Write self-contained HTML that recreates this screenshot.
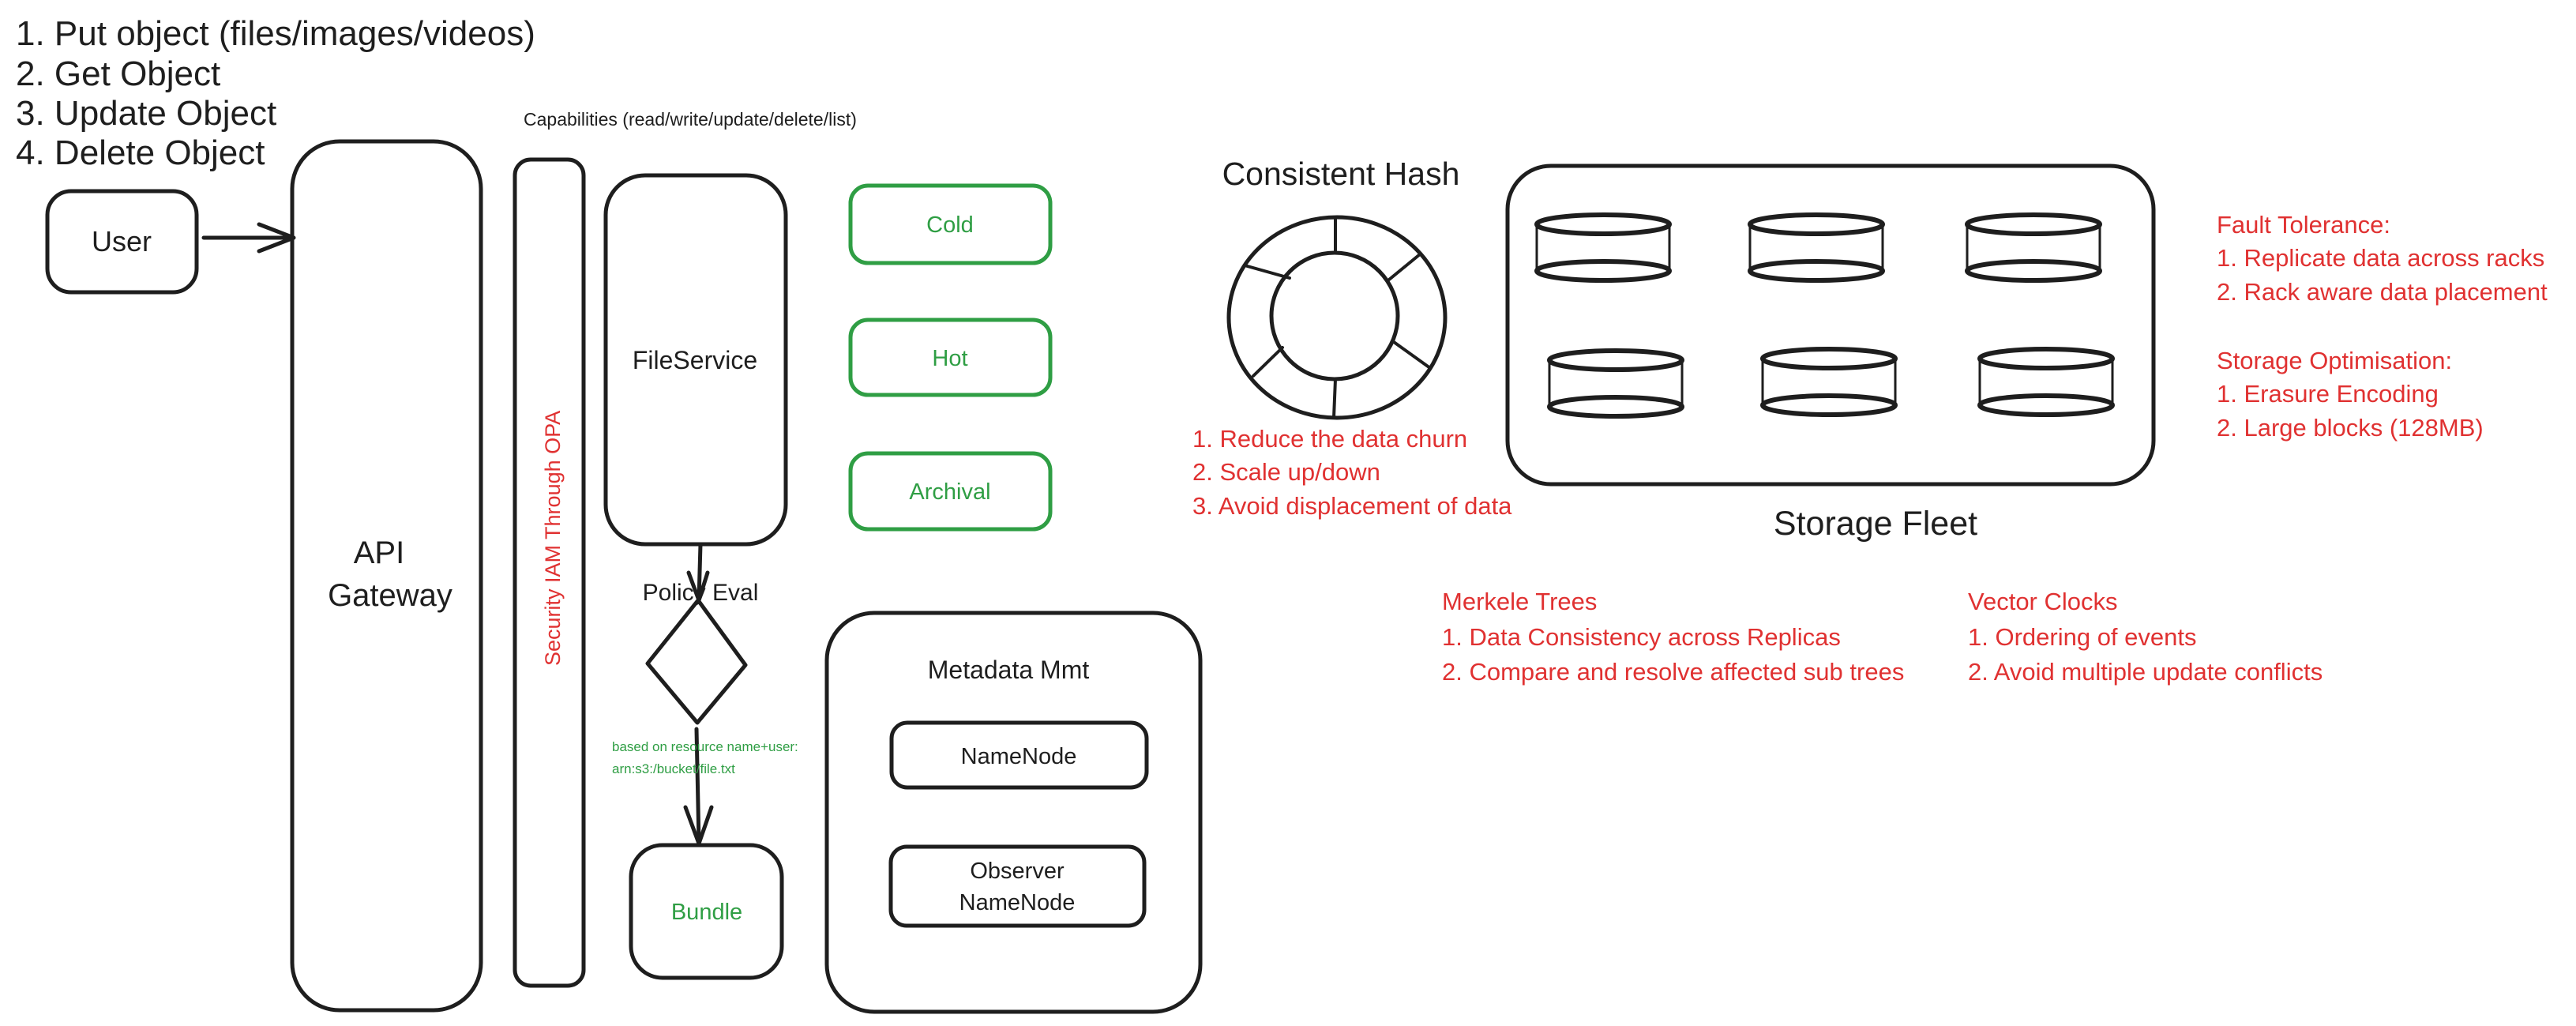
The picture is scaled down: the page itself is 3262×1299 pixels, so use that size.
<!DOCTYPE html>
<html><head><meta charset="utf-8"><style>
html,body{margin:0;padding:0;background:#fff;}
svg{display:block;}
text{font-family:"Liberation Sans","DejaVu Sans",sans-serif;}
</style></head><body>
<svg width="3262" height="1299" viewBox="0 0 3262 1299" xmlns="http://www.w3.org/2000/svg">
<g fill="none" stroke="#1e1e1e" stroke-width="5" stroke-linecap="round" stroke-linejoin="round">
  <rect x="60" y="242" width="189" height="128" rx="30"/>
  <line x1="258" y1="301" x2="370" y2="301"/>
  <polyline points="328,284 372,301 328,318"/>
  <rect x="370" y="179" width="239" height="1100" rx="60"/>
  <rect x="652" y="202" width="87" height="1046" rx="20"/>
  <rect x="767" y="222" width="228" height="467" rx="50"/>
  <line x1="887" y1="689" x2="885" y2="760"/>
  <polyline points="872,725 885,760 896,725"/>
  <polygon points="884,760 944,842 883,915 820,840"/>
  <line x1="882" y1="923" x2="885" y2="1068"/>
  <polyline points="868,1022 885,1068 901,1022"/>
  <rect x="799" y="1070" width="191" height="168" rx="40"/>
  <rect x="1047" y="776" width="473" height="505" rx="60"/>
  <rect x="1129" y="915" width="323" height="82" rx="20"/>
  <rect x="1128" y="1072" width="321" height="100" rx="20"/>
  <rect x="1909" y="210" width="818" height="403" rx="55"/>
  <ellipse cx="1693" cy="402" rx="137" ry="127"/>
  <ellipse cx="1690" cy="400" rx="80" ry="80"/>
  <g stroke-width="4">
  <line x1="1691" y1="275" x2="1691" y2="320"/>
  <line x1="1576" y1="336" x2="1633" y2="352"/>
  <line x1="1798" y1="322" x2="1759" y2="354"/>
  <line x1="1765" y1="433" x2="1811" y2="466"/>
  <line x1="1624" y1="440" x2="1587" y2="476"/>
  <line x1="1691" y1="480" x2="1689" y2="529"/>
  </g>
</g>
<g fill="none" stroke="#2f9e44" stroke-width="5">
  <rect x="1077" y="235" width="253" height="98" rx="22"/>
  <rect x="1077" y="405" width="253" height="95" rx="22"/>
  <rect x="1077" y="574" width="253" height="96" rx="22"/>
</g>
<g fill="none" stroke="#1e1e1e" stroke-width="6">
  <g><ellipse cx="2030" cy="284" rx="84" ry="12"/><ellipse cx="2030" cy="343" rx="84" ry="12"/><line x1="1946" y1="284" x2="1946" y2="343" stroke-width="3"/><line x1="2114" y1="284" x2="2114" y2="343" stroke-width="3"/></g>
  <g transform="translate(270,0)"><ellipse cx="2030" cy="284" rx="84" ry="12"/><ellipse cx="2030" cy="343" rx="84" ry="12"/><line x1="1946" y1="284" x2="1946" y2="343" stroke-width="3"/><line x1="2114" y1="284" x2="2114" y2="343" stroke-width="3"/></g>
  <g transform="translate(545,0)"><ellipse cx="2030" cy="284" rx="84" ry="12"/><ellipse cx="2030" cy="343" rx="84" ry="12"/><line x1="1946" y1="284" x2="1946" y2="343" stroke-width="3"/><line x1="2114" y1="284" x2="2114" y2="343" stroke-width="3"/></g>
  <g transform="translate(16,172)"><ellipse cx="2030" cy="284" rx="84" ry="12"/><ellipse cx="2030" cy="343" rx="84" ry="12"/><line x1="1946" y1="284" x2="1946" y2="343" stroke-width="3"/><line x1="2114" y1="284" x2="2114" y2="343" stroke-width="3"/></g>
  <g transform="translate(286,170)"><ellipse cx="2030" cy="284" rx="84" ry="12"/><ellipse cx="2030" cy="343" rx="84" ry="12"/><line x1="1946" y1="284" x2="1946" y2="343" stroke-width="3"/><line x1="2114" y1="284" x2="2114" y2="343" stroke-width="3"/></g>
  <g transform="translate(561,170)"><ellipse cx="2030" cy="284" rx="84" ry="12"/><ellipse cx="2030" cy="343" rx="84" ry="12"/><line x1="1946" y1="284" x2="1946" y2="343" stroke-width="3"/><line x1="2114" y1="284" x2="2114" y2="343" stroke-width="3"/></g>
</g>
<g fill="#1e1e1e" font-size="44">
  <text x="20" y="57">1. Put object (files/images/videos)</text>
  <text x="20" y="108">2. Get Object</text>
  <text x="20" y="158">3. Update Object</text>
  <text x="20" y="208">4. Delete Object</text>
</g>
<g fill="#1e1e1e" text-anchor="middle">
  <text x="154" y="318" font-size="36">User</text>
  <text x="480" y="713" font-size="40">API</text>
  <text x="494" y="767" font-size="40">Gateway</text>
  <text x="880" y="467" font-size="32">FileService</text>
  <text x="887" y="760" font-size="30">Policy Eval</text>
  <text x="1277" y="859" font-size="32">Metadata Mmt</text>
  <text x="1290" y="967" font-size="29">NameNode</text>
  <text x="1288" y="1112" font-size="29">Observer</text>
  <text x="1288" y="1152" font-size="29">NameNode</text>
  <text x="1698" y="234" font-size="41">Consistent Hash</text>
  <text x="2375" y="677" font-size="43">Storage Fleet</text>
</g>
<text x="663" y="159" font-size="23" fill="#1e1e1e">Capabilities (read/write/update/delete/list)</text>
<text transform="translate(709,843) rotate(-90)" font-size="27" fill="#e03131">Security IAM Through OPA</text>
<g fill="#2f9e44" text-anchor="middle" font-size="29">
  <text x="1203" y="294">Cold</text>
  <text x="1203" y="463">Hot</text>
  <text x="1203" y="632">Archival</text>
  <text x="895" y="1164">Bundle</text>
</g>
<g fill="#2f9e44" font-size="17">
  <text x="775" y="951">based on resource name+user:</text>
  <text x="775" y="979">arn:s3:/bucket/file.txt</text>
</g>
<g fill="#e03131" font-size="31">
  <text x="1510" y="566">1. Reduce the data churn</text>
  <text x="1510" y="608">2. Scale up/down</text>
  <text x="1510" y="651">3. Avoid displacement of data</text>
  <text x="2807" y="295">Fault Tolerance:</text>
  <text x="2807" y="337">1. Replicate data across racks</text>
  <text x="2807" y="380">2. Rack aware data placement</text>
  <text x="2807" y="467">Storage Optimisation:</text>
  <text x="2807" y="509">1. Erasure Encoding</text>
  <text x="2807" y="552">2. Large blocks (128MB)</text>
  <text x="1826" y="772">Merkele Trees</text>
  <text x="1826" y="817">1. Data Consistency across Replicas</text>
  <text x="1826" y="861">2. Compare and resolve affected sub trees</text>
  <text x="2492" y="772">Vector Clocks</text>
  <text x="2492" y="817">1. Ordering of events</text>
  <text x="2492" y="861">2. Avoid multiple update conflicts</text>
</g>
</svg>
</body></html>
